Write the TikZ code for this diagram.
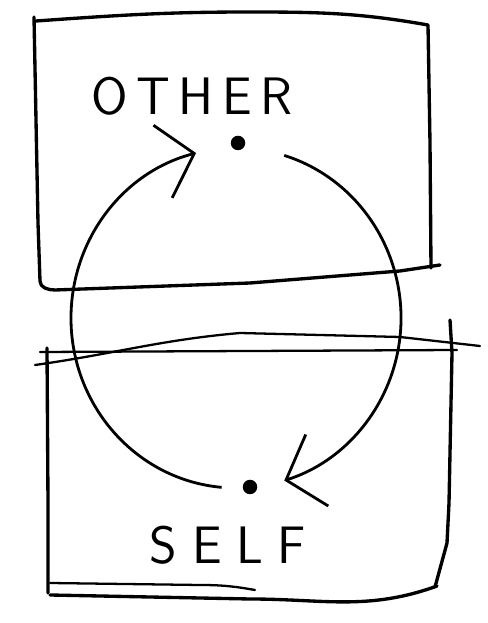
\documentclass[tikz,border=0pt]{standalone}
\usepackage{tikz}
\usetikzlibrary{arrows.meta, positioning, calc}

\begin{document}
\begin{tikzpicture}[
  x=0.2mm, y=0.2mm,
  pen/.style={line width=1.9pt, line cap=round, line join=round},
  thinpen/.style={line width=1.3pt, line cap=round},
  edge/.style={line width=1.6pt, -{Straight Barb[length=6.5mm, width=15mm, line width=1.6pt]}},
  dot/.style={circle, fill, inner sep=0pt, minimum size=2.9mm},
  word/.style={font=\sffamily\fontsize{30}{32}\selectfont, inner sep=0pt}
]
\useasboundingbox (0,0) rectangle (487,623);

% top box
\draw[pen] (36,602) to[out=4,in=180] (250,611) to[out=0,in=170] (428,598) -- (430,480) -- (431,355);
\draw[pen] (34,606) -- (38,400) -- (40,342) to[out=-90,in=180] (55,333) -- (250,340) -- (400,352) -- (440,358);
% bottom box
\draw[thinpen] (40,271) -- (250,272) -- (457,273);
\draw[thinpen] (35,258) to[out=8,in=185] (240,290) -- (400,286) -- (480,277);
\draw[pen] (47,275) -- (48,120) -- (48,30);
\draw[pen] (450,303) -- (452,270) -- (449,120) -- (447,80) -- (435,36);
\draw[thinpen] (50,40) -- (200,38) to[out=0,in=170] (255,33);
\draw[pen] (50,28) -- (250,24) to[out=0,in=200] (437,37);

% dots and labels
\node[dot] (other) at (238,480) {};
\node[dot] (self) at (250,136) {};
\node[word] (lblother) at (192,527) {O\,T\,H\,E\,R};
\node[word] (lblself) at (228,78) {S\;E\;L\;F};

% cycle
\coordinate (c) at (236,305);
\coordinate (a1) at ($(c)+(73:3.3cm and 3.4cm)$);
\coordinate (b1) at ($(c)+(-95:3.3cm and 3.4cm)$);
\draw[edge] (a1) arc[start angle=73, end angle=-73, x radius=3.3cm, y radius=3.4cm];
\draw[edge] (b1) arc[start angle=-95, end angle=-256, x radius=3.3cm, y radius=3.4cm];
\end{tikzpicture}
\end{document}
